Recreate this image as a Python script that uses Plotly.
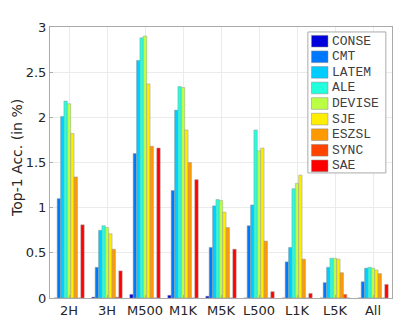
import plotly.graph_objects as go

categories = ["2H", "3H", "M500", "M1K", "M5K", "L500", "L1K", "L5K", "All"]
methods = ["CONSE", "CMT", "LATEM", "ALE", "DEVISE", "SJE", "ESZSL", "SYNC", "SAE"]

CONSE  = [0.00, 0.01, 0.04, 0.03, 0.02, 0.00, 0.00, 0.00, 0.00]
CMT    = [1.10, 0.34, 1.60, 1.19, 0.56, 0.80, 0.40, 0.17, 0.18]
LATEM  = [2.01, 0.75, 2.63, 2.08, 1.02, 1.03, 0.56, 0.34, 0.33]
ALE    = [2.18, 0.80, 2.88, 2.34, 1.09, 1.86, 1.21, 0.44, 0.34]
DEVISE = [2.15, 0.78, 2.90, 2.33, 1.08, 1.63, 1.27, 0.44, 0.33]
SJE    = [1.82, 0.71, 2.37, 1.86, 0.95, 1.66, 1.36, 0.43, 0.31]
ESZSL  = [1.34, 0.54, 1.68, 1.50, 0.78, 0.63, 0.43, 0.28, 0.27]
SYNC   = [0.00, 0.01, 0.00, 0.00, 0.00, 0.00, 0.00, 0.04, 0.00]
SAE    = [0.81, 0.30, 1.66, 1.31, 0.54, 0.07, 0.05, 0.00, 0.15]

y_title = "Top-1 Acc. (in %)"

values = [CONSE, CMT, LATEM, ALE, DEVISE, SJE, ESZSL, SYNC, SAE]
colors = ["#0000DD", "#0077FF", "#00CCFF", "#22FFDD", "#BBFF44",
          "#FFEE00", "#FF9900", "#FF4400", "#FF0000"]

fig = go.Figure()
for name, vals, col in zip(methods, values, colors):
    fig.add_trace(go.Bar(
        x=categories, y=vals, name=name, showlegend=False,
        marker=dict(color=col, line=dict(color="#999999", width=0.5)),
    ))

# Compact MATLAB-style legend box (paper coordinates)
shapes = [dict(type="rect", xref="paper", yref="paper",
               x0=0.754, x1=0.982, y0=0.4615, y1=0.9817,
               fillcolor="white", line=dict(color="#AAAAAA", width=1),
               layer="above")]
annotations = []
y_first, y_step, sw_h = 0.9476, 0.0575, 0.043
for i, (name, col) in enumerate(zip(methods, colors)):
    yc = y_first - i * y_step
    shapes.append(dict(type="rect", xref="paper", yref="paper",
                       x0=0.7646, x1=0.8129, y0=yc - sw_h / 2, y1=yc + sw_h / 2,
                       fillcolor=col, line=dict(color="#888888", width=0.5),
                       layer="above"))
    annotations.append(dict(xref="paper", yref="paper", x=0.8175, y=yc,
                            text=name, showarrow=False,
                            xanchor="left", yanchor="middle",
                            font=dict(family="Liberation Mono", size=13,
                                      color="#404040")))

# y-axis title placed close to the left edge, as in the reference
annotations.append(dict(xref="paper", yref="paper", x=-0.095, y=0.515,
                        text=y_title, showarrow=False, textangle=-90,
                        xanchor="center", yanchor="middle",
                        font=dict(family="DejaVu Sans", size=14, color="#262626")))

fig.update_layout(
    width=412, height=335,
    margin=dict(l=42, r=28, t=17, b=45),
    paper_bgcolor="white", plot_bgcolor="white",
    barmode="group", bargap=0.2, bargroupgap=0,
    font=dict(family="DejaVu Sans", size=13, color="#262626"),
    shapes=shapes, annotations=annotations,
)
fig.update_xaxes(
    showline=True, linecolor="#AAAAAA", mirror=True,
    showgrid=True, gridcolor="#EBEBEB",
    ticks="inside", ticklen=3, tickcolor="#AAAAAA",
    tickfont=dict(size=13),
)
fig.update_yaxes(
    range=[0, 3], dtick=0.5,
    showline=True, linecolor="#AAAAAA", mirror=True,
    showgrid=True, gridcolor="#EBEBEB",
    ticks="inside", ticklen=3, tickcolor="#AAAAAA",
    zeroline=False,
    tickfont=dict(size=13),
)

fig.write_html("out.html")
